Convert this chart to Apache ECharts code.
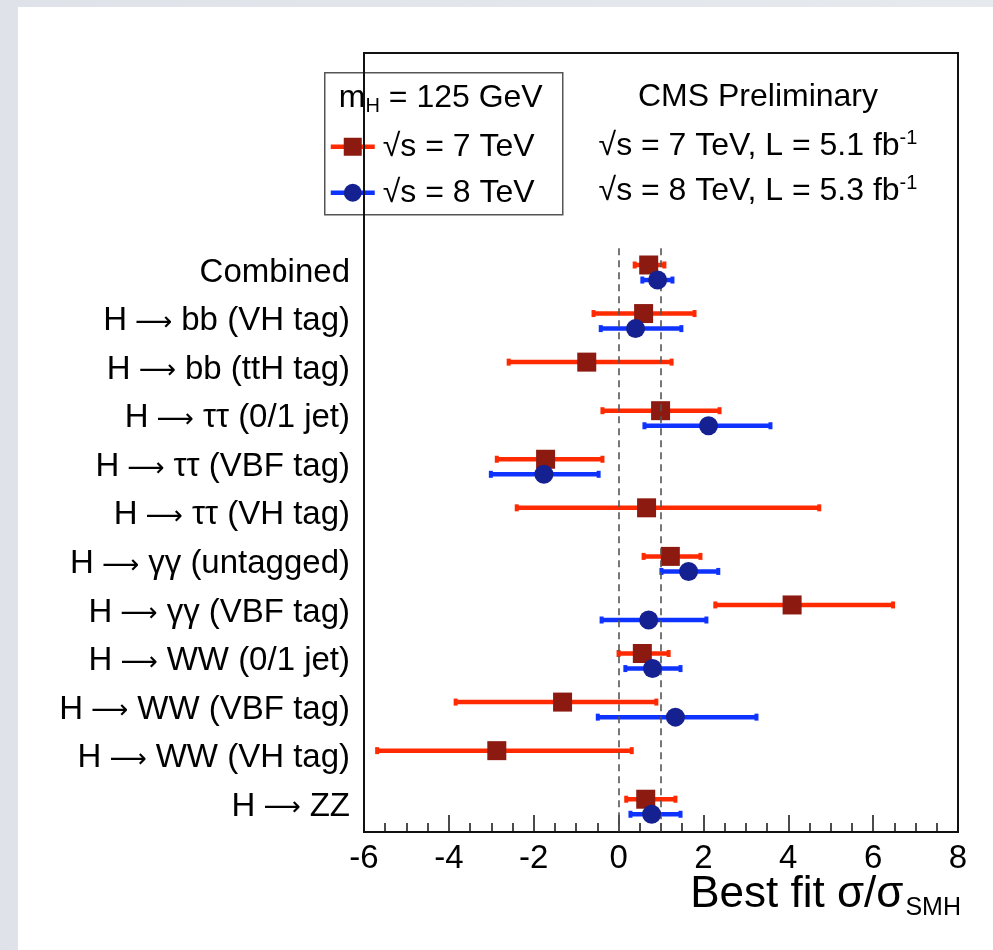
<!DOCTYPE html>
<html>
<head>
<meta charset="utf-8">
<script src="https://cdn.jsdelivr.net/npm/echarts@6/dist/echarts.min.js"></script>
<style>
  html, body { margin: 0; padding: 0; }
  body {
    width: 993px; height: 950px; position: relative; overflow: hidden;
    background: linear-gradient(90deg, #dfe2e8, #e6e9ee);
  }
  #panel { position: absolute; left: 18px; top: 7px; right: 0; bottom: 0; background: #fff; }
  #main { position: absolute; left: 0; top: 0; width: 993px; height: 950px; }
</style>
</head>
<body>
<div id="panel"></div>
<div id="main"></div>
<script>
// channels, top to bottom
const categories = [
  'Combined',
  'H → bb (VH tag)',
  'H → bb (ttH tag)',
  'H → ττ (0/1 jet)',
  'H → ττ (VBF tag)',
  'H → ττ (VH tag)',
  'H → γγ (untagged)',
  'H → γγ (VBF tag)',
  'H → WW (0/1 jet)',
  'H → WW (VBF tag)',
  'H → WW (VH tag)',
  'H → ZZ'
]

// sqrt(s) = 7 TeV : best fit, lower and upper edge of the error bar
const best7 = [0.71, 0.59, -0.75, 0.99, -1.72, 0.66, 1.22, 4.09, 0.56, -1.32, -2.87, 0.64]
const lo7 = [0.38, -0.59, -2.59, -0.38, -2.87, -2.40, 0.59, 2.28, 0.00, -3.84, -5.69, 0.18]
const hi7 = [1.08, 1.79, 1.25, 2.38, -0.38, 4.73, 1.93, 6.47, 1.18, 0.89, 0.31, 1.34]

// sqrt(s) = 8 TeV (null = channel not available)
const best8 = [0.92, 0.40, null, 2.12, -1.76, null, 1.65, 0.71, 0.80, 1.34, null, 0.78]
const lo8 = [0.56, -0.42, null, 0.61, -3.01, null, 1.01, -0.40, 0.16, -0.49, null, 0.28]
const hi8 = [1.27, 1.48, null, 3.58, -0.47, null, 2.35, 2.07, 1.46, 3.25, null, 1.46]

const refLines = [0, 1] // dashed lines
const xTicks = [-6, -4, -2, 0, 2, 4, 6, 8]

const FONT = '"Liberation Sans", Arial, Helvetica, sans-serif'
const RED = '#ff2a00'
const RED_DARK = '#8c1a10'
const BLUE = '#0f33ff'
const BLUE_DARK = '#152190'
const OFF7 = -0.155 // vertical shift of the 7 TeV point inside a row
const OFF8 = 0.155

function barData(lo, hi) {
  const out = []
  for (var i = 0; i < lo.length; i++) {
    if (lo[i] !== null) out.push([i, lo[i], hi[i]])
  }
  return out
}

function pointData(best, off) {
  const out = []
  for (var i = 0; i < best.length; i++) {
    if (best[i] !== null) out.push([best[i], i + off])
  }
  return out
}

function errorBar(off, color) {
  return function(params, api) {
    const y = api.coord([0, api.value(0) + off])[1]
    const x1 = api.coord([api.value(1), 0])[0]
    const x2 = api.coord([api.value(2), 0])[0]
    return {
      type: 'group',
      children: [
        { type: 'line', shape: { x1: x1, y1: y, x2: x2, y2: y }, style: { stroke: color, lineWidth: 4.5 } },
        { type: 'rect', shape: { x: x1 - 2, y: y - 3.5, width: 4, height: 7 }, style: { fill: color } },
        { type: 'rect', shape: { x: x2 - 2, y: y - 3.5, width: 4, height: 7 }, style: { fill: color } }
      ]
    }
  }
}

// the arrow gets its own font so it comes out long and thin like in the original
function channelLabel(v) {
  const c = categories[v]
  if (c === undefined) return ''
  const parts = c.split(' → ')
  if (parts.length < 2) return '{t|' + c + '}'
  return '{t|' + parts[0] + '}{a|⟶}{t|' + parts[1] + '}'
}

const chart = echarts.init(document.getElementById('main'), null, { renderer: 'canvas' })

const sup = { fontSize: 20, fontFamily: FONT, color: '#000', padding: [0, 0, 16, 0] }
const big = { fontSize: 32, fontFamily: FONT, color: '#000' }

chart.setOption({
  animation: false,
  textStyle: { fontFamily: FONT },
  grid: {
    left: 364,
    right: 35,
    top: 53,
    bottom: 118,
    outerBoundsMode: 'none',
    containLabel: false,
    show: true,
    borderColor: '#111',
    borderWidth: 2,
    backgroundColor: 'transparent'
  },
  xAxis: {
    type: 'value',
    min: -6,
    max: 8,
    interval: 2,
    axisLine: { show: true, onZero: false, lineStyle: { color: '#111', width: 2 } },
    axisTick: { show: true, inside: true, length: 17, lineStyle: { color: '#111', width: 1.5 } },
    minorTick: { show: true, splitNumber: 4, length: 9, lineStyle: { color: '#111', width: 1.5 } },
    splitLine: { show: false },
    axisLabel: {
      fontSize: 33,
      color: '#000',
      margin: 10,
      customValues: xTicks
    }
  },
  yAxis: {
    type: 'value',
    inverse: true,
    min: -4.52,
    max: 11.52,
    axisLine: { show: true, onZero: false, lineStyle: { color: '#111', width: 2 } },
    axisTick: { show: false },
    splitLine: { show: false },
    axisLabel: {
      color: '#000',
      margin: 14,
      customValues: categories.map((c, i) => i),
      formatter: channelLabel,
      rich: {
        t: { fontSize: 33, fontFamily: FONT, color: '#000' },
        a: { fontSize: 26, fontFamily: '"DejaVu Sans", sans-serif', color: '#000', padding: [4, 9, 0, 8] }
      }
    }
  },
  series: [
    {
      name: '7 TeV bars',
      type: 'custom',
      renderItem: errorBar(OFF7, RED),
      encode: { x: [1, 2], y: 0 },
      data: barData(lo7, hi7),
      z: 2,
      markLine: {
        silent: true,
        symbol: 'none',
        label: { show: false },
        lineStyle: { color: '#555', width: 1.6, type: [7, 5] },
        data: refLines.map(v => [{ coord: [v, -0.5] }, { coord: [v, 11.52] }])
      }
    },
    {
      name: '√s = 7 TeV',
      type: 'scatter',
      symbol: 'rect',
      symbolSize: 19,
      itemStyle: { color: RED_DARK, opacity: 1 },
      data: pointData(best7, OFF7),
      z: 3
    },
    {
      name: '8 TeV bars',
      type: 'custom',
      renderItem: errorBar(OFF8, BLUE),
      encode: { x: [1, 2], y: 0 },
      data: barData(lo8, hi8),
      z: 4
    },
    {
      name: '√s = 8 TeV',
      type: 'scatter',
      symbol: 'circle',
      symbolSize: 19,
      itemStyle: { color: BLUE_DARK, opacity: 1 },
      data: pointData(best8, OFF8),
      z: 5
    }
  ],
  graphic: [
    // legend box
    {
      type: 'group',
      left: 324,
      top: 72,
      z: 100,
      children: [
        { type: 'rect', shape: { x: 0, y: 0, width: 238, height: 142 }, style: { fill: '#fff', stroke: '#555', lineWidth: 1.5 } },
        {
          type: 'text', x: 116, y: 25,
          style: {
            text: '{m|m}{s|H}{m| = 125 GeV}',
            align: 'center', verticalAlign: 'middle',
            rich: { m: big, s: { fontSize: 20, fontFamily: FONT, color: '#000', padding: [18, 0, 0, 0] } }
          }
        },
        { type: 'line', shape: { x1: 6, y1: 74, x2: 50, y2: 74 }, style: { stroke: RED, lineWidth: 4.5 } },
        { type: 'rect', shape: { x: 19, y: 65, width: 18, height: 18 }, style: { fill: RED_DARK } },
        { type: 'text', x: 58, y: 74, style: { text: '√s = 7 TeV', font: '32px ' + FONT, fill: '#000', verticalAlign: 'middle' } },
        { type: 'line', shape: { x1: 6, y1: 120, x2: 50, y2: 120 }, style: { stroke: BLUE, lineWidth: 4.5 } },
        { type: 'circle', shape: { cx: 28, cy: 120, r: 9 }, style: { fill: BLUE_DARK } },
        { type: 'text', x: 58, y: 120, style: { text: '√s = 8 TeV', font: '32px ' + FONT, fill: '#000', verticalAlign: 'middle' } }
      ]
    },
    {
      type: 'text', x: 758, y: 97, z: 100,
      style: { text: 'CMS Preliminary', font: '32px ' + FONT, fill: '#000', align: 'center', verticalAlign: 'middle' }
    },
    {
      type: 'text', x: 758, y: 146, z: 100,
      style: {
        text: '{m|√s = 7 TeV, L = 5.1 fb}{p|-1}',
        align: 'center', verticalAlign: 'middle',
        rich: { m: big, p: sup }
      }
    },
    {
      type: 'text', x: 758, y: 191, z: 100,
      style: {
        text: '{m|√s = 8 TeV, L = 5.3 fb}{p|-1}',
        align: 'center', verticalAlign: 'middle',
        rich: { m: big, p: sup }
      }
    },
    // x axis title
    {
      type: 'text', x: 961, y: 868, z: 100,
      style: {
        text: '{a|Best fit σ/σ}{b|SMH}',
        align: 'right', verticalAlign: 'top',
        rich: {
          a: { fontSize: 44, fontFamily: FONT, color: '#000' },
          b: { fontSize: 25, fontFamily: FONT, color: '#000', padding: [28, 0, 0, 2] }
        }
      }
    }
  ]
})
</script>
</body>
</html>
